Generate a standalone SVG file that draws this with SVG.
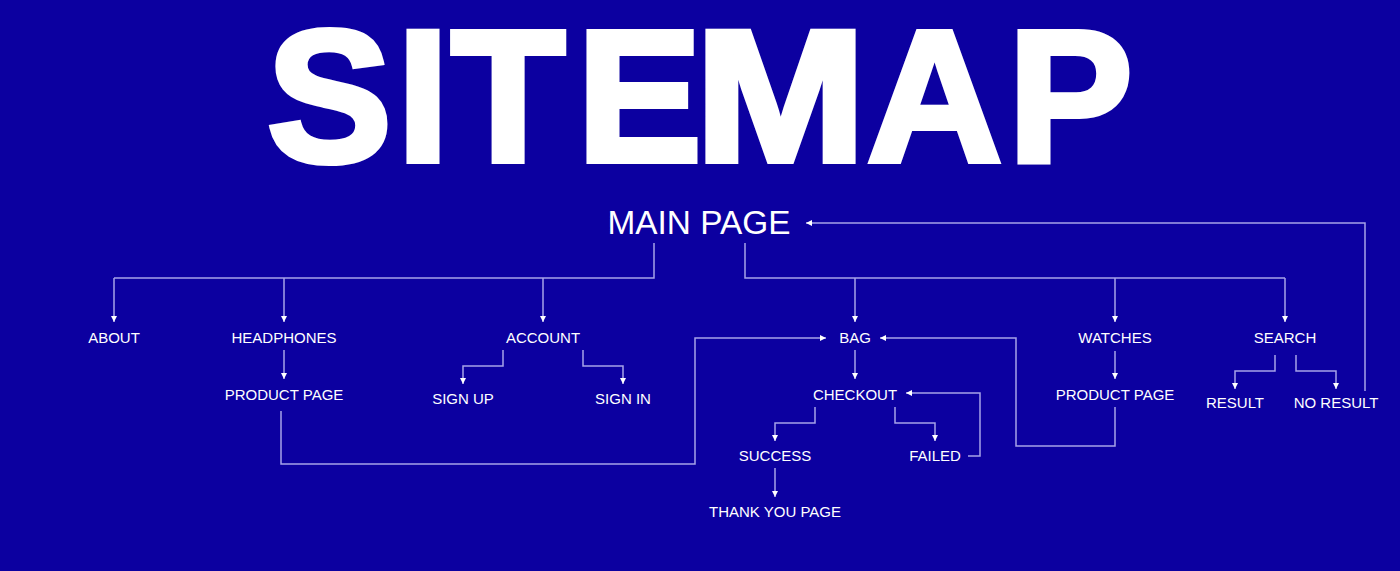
<svg xmlns="http://www.w3.org/2000/svg" width="1400" height="571" viewBox="0 0 1400 571">
<style>
.bg{fill:#0C00A0}
.title{font-family:"Liberation Sans",Arial,sans-serif;font-weight:bold;font-size:187px;fill:#fff;stroke:#fff;stroke-width:6;stroke-linejoin:miter}
.lbl{font-family:"Liberation Sans",Arial,sans-serif;font-size:15px;fill:#fff;text-anchor:middle}
.main{font-family:"Liberation Sans",Arial,sans-serif;font-size:34px;fill:#fff;text-anchor:middle}
.c{fill:none;stroke:#A7A3E8;stroke-width:1.5}
.a{marker-end:url(#ah)}
</style>
<defs>
<marker id="ah" markerUnits="userSpaceOnUse" markerWidth="7" markerHeight="6" refX="6" refY="3" orient="auto">
<path d="M0,0 L6,3 L0,6 Z" fill="#fff"/>
</marker>
</defs>
<rect class="bg" x="0" y="0" width="1400" height="571"/>
<text class="title" y="161"><tspan x="267 397 451 577">SITE</tspan><tspan x="695" textLength="171" lengthAdjust="spacingAndGlyphs">M</tspan><tspan x="867 1008">AP</tspan></text>

<g id="connectors">
<path class="c" d="M654,243 V278 H114"/>
<path class="c a" d="M114,278 V322"/>
<path class="c a" d="M284,278 V322"/>
<path class="c a" d="M543,278 V322"/>
<path class="c" d="M745,243 V278 H1285"/>
<path class="c a" d="M855,278 V322"/>
<path class="c a" d="M1115,278 V322"/>
<path class="c a" d="M1285,278 V322"/>
<path class="c a" d="M1365,391 V223 H806"/>
<path class="c a" d="M284,350 V379"/>
<path class="c a" d="M281,411 V464 H695 V338 H826"/>
<path class="c a" d="M1115,407 V446 H1016 V338 H880"/>
<path class="c a" d="M503,350 V366 H463 V384"/>
<path class="c a" d="M583,350 V366 H623 V384"/>
<path class="c a" d="M855,350 V379"/>
<path class="c a" d="M815,407 V423 H775 V441"/>
<path class="c a" d="M895,407 V423 H935 V441"/>
<path class="c a" d="M968,456 H980 V393 H906"/>
<path class="c a" d="M775,468 V497"/>
<path class="c a" d="M1115,351 V379"/>
<path class="c a" d="M1275,355 V371 H1235 V389"/>
<path class="c a" d="M1296,355 V371 H1336 V389"/>
</g>

<g id="main-page"><text class="main" x="699" y="234" textLength="183" lengthAdjust="spacingAndGlyphs">MAIN PAGE</text></g>
<g id="about"><text class="lbl" x="114" y="343">ABOUT</text></g>
<g id="headphones"><text class="lbl" x="284" y="343">HEADPHONES</text></g>
<g id="product-page-1"><text class="lbl" x="284" y="400">PRODUCT PAGE</text></g>
<g id="account"><text class="lbl" x="543" y="343">ACCOUNT</text></g>
<g id="sign-up"><text class="lbl" x="463" y="404">SIGN UP</text></g>
<g id="sign-in"><text class="lbl" x="623" y="404">SIGN IN</text></g>
<g id="bag"><text class="lbl" x="855" y="343">BAG</text></g>
<g id="checkout"><text class="lbl" x="855" y="400">CHECKOUT</text></g>
<g id="success"><text class="lbl" x="775" y="461">SUCCESS</text></g>
<g id="failed"><text class="lbl" x="935" y="461">FAILED</text></g>
<g id="thank-you"><text class="lbl" x="775" y="517">THANK YOU PAGE</text></g>
<g id="watches"><text class="lbl" x="1115" y="343">WATCHES</text></g>
<g id="product-page-2"><text class="lbl" x="1115" y="400">PRODUCT PAGE</text></g>
<g id="search"><text class="lbl" x="1285" y="343">SEARCH</text></g>
<g id="result"><text class="lbl" x="1235" y="408">RESULT</text></g>
<g id="no-result"><text class="lbl" x="1336" y="408">NO RESULT</text></g>
</svg>
